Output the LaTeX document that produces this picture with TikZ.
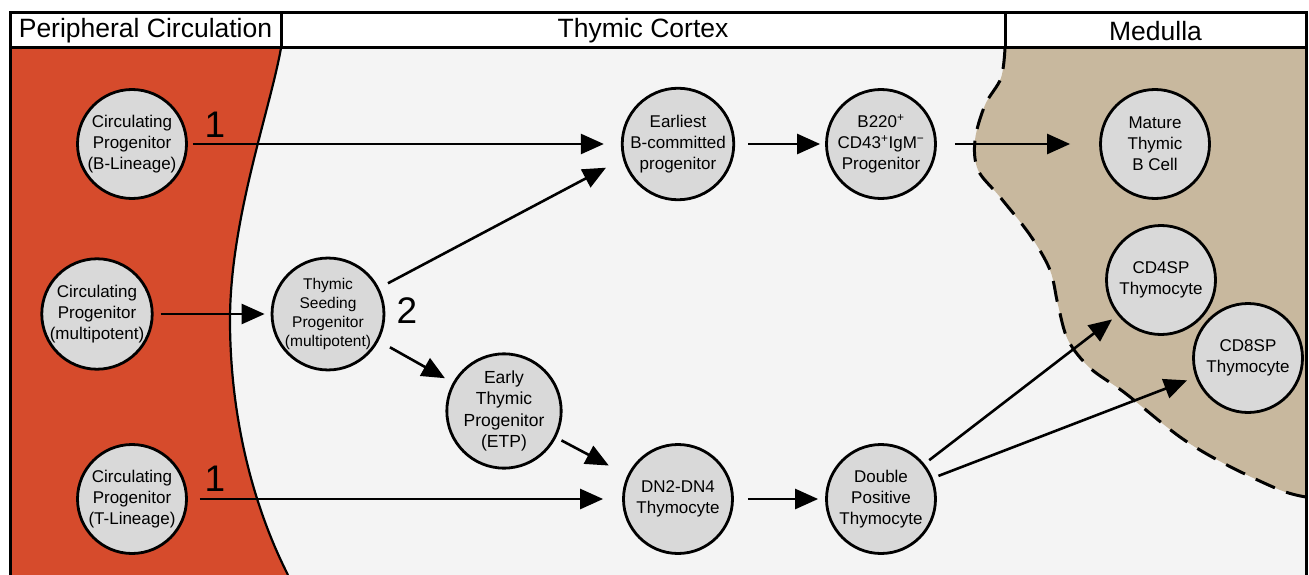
\documentclass[tikz,border=0pt]{standalone}
\usepackage{fontspec}
\setmainfont{Liberation Sans}
\usetikzlibrary{arrows.meta}
\definecolor{periph}{RGB}{214,75,44}
\definecolor{medcol}{RGB}{200,184,158}
\definecolor{cortex}{RGB}{244,244,244}
\definecolor{cellgray}{RGB}{217,217,217}
\tikzset{
  cell/.style={circle, draw=black, line width=2.8pt, fill=cellgray, minimum size=109pt, inner sep=0pt, align=center, font=\fontsize{17}{21}\selectfont},
  smallcell/.style={cell, font=\fontsize{15.5}{19}\selectfont},
  flow/.style={line width=2.6pt, -{Triangle[length=23pt,width=20pt]}},
  numlabel/.style={font=\fontsize{37}{40}\selectfont, inner sep=0pt},
  headtext/.style={font=\fontsize{26.5}{30}\selectfont, inner sep=0pt},
}
\begin{document}
\begin{tikzpicture}[x=1pt,y=-1pt]
\useasboundingbox (0,0) rectangle (1309,575);
\fill[white] (0,0) rectangle (1309,575);
% background regions
\fill[cortex] (10,48) rectangle (1306,575);
\fill[periph] (10,48) -- (281,48) .. controls (270,110) and (230,220) .. (230,320)
  .. controls (230,410) and (250,500) .. (288,575) -- (10,575) -- cycle;
\draw[line width=2.2pt] (281,48) .. controls (270,110) and (230,220) .. (230,320)
  .. controls (230,410) and (250,500) .. (288,575);
\fill[medcol] (1306,48) -- plot[smooth, tension=0.55] coordinates {(1005,48) (1001,78) (985,105) (975,140) (978,170) (1000,197) (1030,235) (1050,270) (1058,305) (1068,340) (1090,368) (1125,393) (1180,437) (1225,464) (1280,490) (1306,497)} -- cycle;
\draw[line width=3pt, dash pattern=on 21pt off 12pt] plot[smooth, tension=0.55] coordinates {(1005,48) (1001,78) (985,105) (975,140) (978,170) (1000,197) (1030,235) (1050,270) (1058,305) (1068,340) (1090,368) (1125,393) (1180,437) (1225,464) (1280,490) (1306,497)};
% header
\fill[white] (10,13) rectangle (1306,48);
\draw[line width=3pt] (10,575) -- (10,13) -- (1306,13) -- (1306,575);
\draw[line width=3pt] (10,48) -- (1306,48);
\draw[line width=3pt] (281,13) -- (281,48);
\draw[line width=3pt] (1005,13) -- (1005,48);
\node[headtext] (hp) at (145.5,31) {Peripheral Circulation};
\node[headtext] (hc) at (643,31) {Thymic Cortex};
\node[headtext] (hm) at (1155.5,31) {Medulla};
% cells
\node[cell] (cpb) at (132,144) {Circulating\\Progenitor\\(B-Lineage)};
\node[cell] (cpm) at (97,314) {Circulating\\Progenitor\\(multipotent)};
\node[cell] (cpt) at (132,499) {Circulating\\Progenitor\\(T-Lineage)};
\node[smallcell] (tsp) at (328,314) {Thymic\\Seeding\\Progenitor\\(multipotent)};
\node[cell, font=\fontsize{17.5}{21.5}\selectfont] (etp) at (504,411) {Early\\Thymic\\Progenitor\\(ETP)};
\node[cell] (eb) at (678,144) {Earliest\\B-committed\\progenitor};
\node[cell] (b220) at (881,144) {B220\textsuperscript{+}\\CD43\textsuperscript{+}IgM\textsuperscript{−}\\Progenitor};
\node[cell] (mb) at (1155,144) {Mature\\Thymic\\B Cell};
\node[cell] (dn) at (678,499) {DN2-DN4\\Thymocyte};
\node[cell] (dp) at (881,499) {Double\\Positive\\Thymocyte};
\node[cell] (cd4) at (1161,280) {CD4SP\\Thymocyte};
\node[cell] (cd8) at (1248,358) {CD8SP\\Thymocyte};
% arrows
\draw[flow, shorten <=5pt, shorten >=17pt] (cpb.east) -- (eb.west);
\draw[flow, shorten <=7pt, shorten >=6pt] (cpm.east) -- (tsp.west);
\draw[flow, shorten <=12pt, shorten >=19pt] (cpt.east) -- (dn.west);
\draw[flow, shorten <=10pt, shorten >=19pt] (tsp.27) -- (eb.195);
\draw[flow, shorten <=13pt, shorten >=9pt] (tsp.-28) -- (etp.151);
\draw[flow, shorten <=6pt, shorten >=21pt] (etp.-27) -- (dn.155);
\draw[flow, shorten <=13pt, shorten >=5pt] (eb.east) -- (b220.west);
\draw[flow, shorten <=18pt, shorten >=29pt] (b220.east) -- (mb.west);
\draw[flow, shorten <=14pt, shorten >=7pt] (dn.east) -- (dp.west);
\draw[flow, shorten <=6pt, shorten >=7pt] (dp.39) -- (cd4.219);
\draw[flow, shorten <=6pt, shorten >=9pt] (dp.22) -- (cd8.200);
% labels
\node[numlabel] (l1a) at (215,125) {1};
\node[numlabel] (l1b) at (215,479) {1};
\node[numlabel] (l2) at (407,311) {2};
\end{tikzpicture}
\end{document}
